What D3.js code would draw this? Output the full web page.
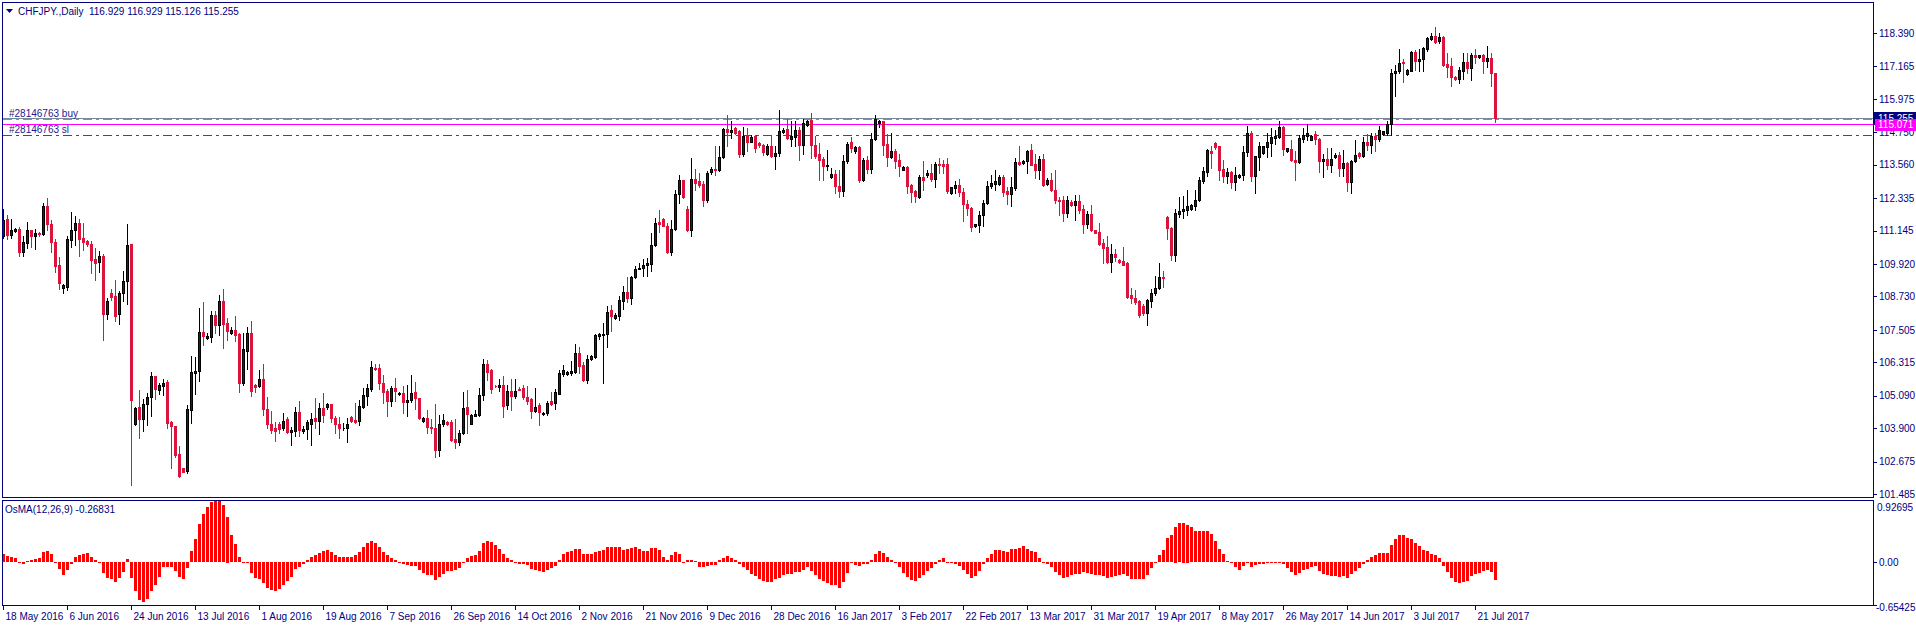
<!DOCTYPE html>
<html><head><meta charset="utf-8">
<script src="https://cdn.jsdelivr.net/npm/d3@7"></script>
<style>
html,body{margin:0;padding:0;background:#fff;overflow:hidden;}
svg{display:block;}
</style></head><body>
<svg id="chart" width="1916" height="627"></svg>
<script>
// ---------- DATA ----------
const symbolTitle = "CHFJPY.,Daily";
const headerOHLC = "116.929 116.929 115.126 115.255";
const osmaTitle = "OsMA(12,26,9) -0.26831";
const dateLabels = ["18 May 2016","6 Jun 2016","24 Jun 2016","13 Jul 2016","1 Aug 2016","19 Aug 2016","7 Sep 2016","26 Sep 2016","14 Oct 2016","2 Nov 2016","21 Nov 2016","9 Dec 2016","28 Dec 2016","16 Jan 2017","3 Feb 2017","22 Feb 2017","13 Mar 2017","31 Mar 2017","19 Apr 2017","8 May 2017","26 May 2017","14 Jun 2017","3 Jul 2017","21 Jul 2017"];
const priceTicks = [118.390,117.165,115.975,114.750,113.560,112.335,111.145,109.920,108.730,107.505,106.315,105.090,103.900,102.675,101.485];
const osmaTickValues = [0.92695, 0, -0.65425];
const osmaTickLabels = ["0.92695","0.00","-0.65425"];
const bidPrice = 115.255, userLinePrice = 115.071, orderPrice = 115.22, stopPrice = 114.66;
const orderLabel = "#28146763 buy", stopLabel = "#28146763 sl";

const opens = [
110.94,111.58,110.98,111.12,111.22,110.35,110.69,111.15,110.94,111.06,
111.01,112.03,111.40,110.74,109.87,109.04,109.07,110.79,111.15,111.44,
110.89,110.78,110.67,110.10,109.99,110.23,108.08,108.84,108.73,108.08,
108.85,109.29,110.67,104.05,104.66,104.24,104.78,105.05,105.80,105.31,
105.45,105.58,104.13,103.97,102.95,102.43,102.34,104.57,105.94,106.00,
107.41,107.19,107.24,108.04,107.68,108.58,107.74,107.40,107.49,107.34,
105.56,106.73,107.38,105.49,105.45,105.72,104.62,104.04,103.89,104.04,
103.90,104.23,103.77,103.80,104.49,103.79,103.87,104.06,104.27,104.15,
104.63,104.67,104.78,104.26,104.07,103.89,103.89,104.32,104.19,104.15,
104.69,105.08,105.33,106.10,106.10,105.57,105.28,104.89,105.36,105.14,
105.18,104.87,104.94,105.21,104.99,104.15,104.29,103.95,103.90,103.11,
104.05,104.13,104.13,103.52,103.40,103.72,104.67,104.07,104.35,104.39,
105.11,106.24,106.02,105.46,105.42,105.49,104.74,105.27,105.09,105.35,
105.37,105.06,104.96,104.54,104.74,104.41,104.44,104.90,104.84,105.17,
105.88,105.88,105.91,105.96,106.67,106.21,105.66,106.43,106.51,107.28,
107.30,107.34,108.22,107.95,108.00,108.56,108.91,108.66,109.44,109.72,
109.76,109.88,109.93,110.60,111.45,111.57,111.33,110.37,111.22,112.50,
112.99,111.94,111.16,113.04,112.95,112.85,112.26,113.28,113.40,113.35,
113.84,114.87,114.76,114.90,114.78,113.96,114.60,114.41,114.60,114.35,
114.29,113.96,114.26,113.87,113.99,114.77,114.87,114.50,114.57,114.84,
114.29,115.02,115.21,114.29,113.96,113.78,113.50,113.11,113.23,112.79,
112.59,113.68,114.38,114.05,114.21,112.99,113.72,113.40,114.50,115.08,
115.15,114.33,113.84,114.05,113.72,113.38,113.46,112.83,112.59,112.38,
113.11,113.20,113.26,113.04,113.60,113.60,113.58,112.52,112.71,112.83,
112.56,112.13,111.97,111.30,111.34,111.71,112.16,112.77,112.87,112.87,
113.11,112.59,112.49,112.71,113.67,113.62,113.68,114.09,113.60,113.35,
113.77,112.87,113.01,112.65,112.28,112.26,111.79,112.18,112.10,112.24,
111.94,111.40,111.77,111.15,111.11,110.69,110.54,110.00,110.27,110.05,
110.02,109.95,108.80,108.69,108.56,108.37,108.13,108.56,108.84,109.05,
109.45,111.65,111.24,110.24,111.77,111.86,111.91,111.95,112.04,112.26,
112.95,113.28,114.07,114.35,114.23,113.42,113.13,113.29,112.91,113.10,
113.17,114.01,114.72,113.13,113.84,113.99,114.20,114.35,114.54,114.57,
114.96,114.05,114.13,113.74,113.65,114.51,114.63,114.48,114.68,114.51,
113.68,113.77,113.54,113.83,113.93,113.44,113.62,112.91,113.68,113.99,
113.87,114.38,114.29,114.60,114.50,114.68,114.74,115.06,116.91,116.98,
117.34,116.89,117.01,117.68,117.38,117.43,117.79,118.16,118.28,118.10,
118.23,117.26,117.18,116.79,116.71,117.01,117.32,117.09,117.59,117.52,
117.57,117.38,117.46,116.929];

const highs = [
111.94,111.73,111.57,111.23,111.26,110.96,111.45,111.18,111.21,111.11,
112.15,112.35,111.55,110.85,110.18,109.17,110.94,111.82,111.67,111.57,
111.43,110.80,110.76,110.49,110.38,110.28,108.69,108.99,109.35,108.93,
109.68,111.40,110.67,104.67,105.30,104.96,105.18,105.95,105.80,105.54,
105.71,105.67,104.16,103.99,103.25,102.44,104.74,106.54,106.52,108.30,
108.51,107.38,108.19,108.21,108.80,108.99,107.94,107.62,108.01,107.40,
107.40,107.60,107.82,105.51,106.03,106.24,105.04,104.52,104.11,104.14,
104.45,104.30,103.94,104.67,104.89,103.99,104.21,104.45,104.99,104.84,
105.18,104.84,104.80,104.36,104.30,104.09,104.29,104.35,104.82,104.93,
105.36,105.52,106.35,106.25,106.24,105.84,105.33,105.45,105.73,105.22,
105.44,105.48,105.85,105.60,105.02,104.30,104.56,104.23,104.78,104.38,
104.41,104.16,104.19,104.23,103.84,105.24,105.29,104.42,104.56,105.36,
106.45,106.39,106.06,105.50,105.69,105.82,105.48,105.69,105.69,105.40,
105.48,105.45,105.00,105.39,104.84,104.49,104.90,105.21,105.33,106.04,
106.22,106.00,106.36,106.97,106.88,106.34,106.57,106.57,107.34,107.40,
107.77,108.38,108.40,108.11,108.74,109.13,109.44,109.48,109.84,109.96,
110.11,110.15,111.04,111.61,111.91,111.60,111.43,111.55,112.62,113.17,
113.01,112.04,113.80,113.40,113.26,112.95,113.32,113.46,114.23,114.23,
114.89,115.39,115.18,114.95,114.84,114.96,114.90,114.66,114.66,114.40,
114.33,114.33,114.66,114.23,115.57,114.90,115.23,115.15,115.15,114.96,
115.23,115.20,115.45,114.60,114.35,113.83,114.11,113.44,113.35,113.35,
113.93,114.41,114.57,114.25,114.23,113.80,113.89,114.74,115.39,115.21,
115.18,114.69,114.74,114.13,113.96,113.52,113.52,112.87,112.65,113.20,
113.68,113.35,113.60,113.65,113.80,113.74,113.80,112.73,112.95,113.05,
112.71,112.26,112.01,111.40,111.85,112.26,112.97,113.20,113.35,113.20,
113.20,112.74,113.11,113.80,114.23,113.74,114.11,114.33,113.96,113.89,
113.96,113.07,113.26,113.35,112.38,112.40,112.43,112.28,112.46,112.46,
112.10,111.85,112.10,111.18,111.43,110.82,110.94,110.67,110.48,110.09,
110.54,109.99,109.05,108.95,108.60,108.47,108.62,109.01,109.48,109.94,
109.68,111.67,111.28,111.94,112.37,112.40,112.65,112.13,112.65,113.11,
113.48,114.13,114.23,114.41,114.26,113.74,113.44,113.32,113.46,113.23,
114.26,114.99,114.80,113.89,114.41,114.26,114.72,114.90,114.84,115.18,
114.99,114.18,114.48,114.05,114.66,114.90,115.06,114.66,114.80,114.54,
113.96,114.17,114.17,113.99,114.02,114.11,113.65,113.74,114.45,114.04,
114.57,114.70,114.72,114.72,114.99,114.80,115.15,117.06,117.22,117.79,
117.43,117.06,117.74,117.77,117.79,117.87,118.26,118.38,118.60,118.38,
118.28,117.65,117.46,116.82,117.16,117.67,117.65,117.65,117.79,117.60,
117.61,117.91,117.67,116.929];

const lows = [
110.88,110.85,110.87,111.11,110.23,110.21,110.51,110.54,110.47,110.94,
110.97,111.18,110.35,109.62,109.02,108.84,108.96,110.55,110.60,110.23,
110.43,110.58,109.58,109.35,109.62,107.13,107.89,108.60,107.82,107.73,
108.55,108.45,101.83,104.01,103.55,103.81,104.01,104.34,104.98,105.16,
105.11,103.89,102.43,102.86,102.10,102.29,102.25,104.09,105.16,105.63,
106.94,107.17,107.07,107.38,107.30,106.83,107.12,107.36,107.10,105.23,
105.50,106.06,105.09,105.21,105.41,104.39,103.89,103.74,103.44,103.74,
103.84,103.72,103.28,103.62,103.62,103.72,103.52,103.29,103.90,103.68,
104.13,104.62,104.11,103.74,103.55,103.82,103.40,104.13,104.09,104.02,
104.64,104.74,105.27,106.04,105.33,104.84,104.35,104.72,104.88,105.10,
104.47,104.35,104.87,104.60,104.23,104.12,103.74,103.74,102.85,102.89,
103.99,104.02,103.44,103.19,103.28,103.68,103.74,104.05,104.35,104.35,
104.94,105.66,105.18,105.40,105.26,104.32,104.60,104.56,105.02,105.30,
104.96,104.78,104.29,104.50,104.02,104.38,104.38,104.74,104.62,105.14,
105.82,105.86,105.84,105.94,105.94,105.63,105.57,106.39,106.49,107.18,
105.57,106.88,107.46,107.91,107.87,108.26,108.52,108.44,109.40,109.72,
109.47,109.47,109.66,110.57,111.09,111.30,110.33,110.24,111.18,112.16,
112.34,111.12,110.94,112.65,112.75,112.06,112.18,113.22,113.19,113.32,
113.80,114.23,114.54,114.70,113.84,113.89,114.07,114.38,114.01,114.22,
113.93,113.90,113.84,113.40,113.87,114.74,114.51,114.26,114.23,113.74,
113.96,114.98,113.80,113.80,112.99,112.99,113.38,113.07,112.52,112.38,
112.40,113.64,114.01,114.00,112.91,112.95,113.25,113.25,114.45,114.96,
113.93,113.52,113.80,113.44,113.16,113.35,112.52,112.18,112.18,112.34,
112.65,113.11,112.95,112.74,113.26,113.26,112.52,112.50,112.52,112.40,
111.49,111.73,111.12,111.27,111.09,111.33,112.13,112.71,112.65,112.83,
112.43,112.13,112.06,112.65,113.56,113.58,113.26,113.56,113.07,113.04,
112.79,112.83,112.59,112.16,111.73,111.49,111.65,112.04,111.55,111.79,
111.04,111.24,111.12,111.04,110.63,109.96,109.96,109.63,110.02,109.95,
109.87,108.68,108.50,108.44,107.99,108.04,107.67,108.34,108.77,109.01,
109.07,110.84,110.06,110.02,111.65,111.61,111.71,111.89,111.89,112.22,
112.89,113.16,113.44,114.14,112.99,112.91,112.89,112.71,112.62,113.07,
113.01,113.87,112.95,112.52,113.35,113.96,113.84,113.87,114.33,114.54,
113.93,114.02,113.68,113.01,113.62,114.38,114.45,114.45,114.33,113.28,
113.10,113.42,113.28,113.80,113.13,113.13,112.59,112.52,113.65,113.82,
113.84,114.11,113.99,114.05,114.42,114.66,114.66,114.66,116.09,116.94,
116.61,116.84,116.98,117.04,117.01,117.01,117.74,118.13,118.04,118.04,
117.18,116.79,116.43,116.66,116.57,116.70,116.94,116.65,117.30,117.48,
116.94,117.16,116.43,115.126];

const closes = [
111.55,110.98,111.17,111.22,110.35,110.74,111.15,110.94,111.04,111.03,
112.03,111.38,110.72,109.84,109.22,109.14,110.82,111.15,111.44,110.85,
110.72,110.65,110.06,109.96,110.23,108.08,108.58,108.72,108.01,108.84,
109.28,110.63,104.94,104.64,104.23,104.78,105.06,105.80,105.34,105.48,
105.57,104.10,103.97,102.91,102.14,102.30,104.60,105.95,106.00,107.41,
107.28,107.28,108.04,107.68,108.58,107.73,107.46,107.49,107.32,105.56,
106.79,107.38,105.27,105.41,105.72,104.62,104.07,103.84,103.80,103.88,
104.18,103.77,103.83,104.49,103.84,103.87,104.11,104.23,104.15,104.63,
104.39,104.79,104.26,104.05,103.89,103.91,104.07,104.17,104.13,104.71,
105.11,105.36,106.13,106.06,105.54,105.23,104.90,105.36,105.27,105.19,
104.87,104.93,105.19,104.99,104.29,104.27,103.93,103.89,103.11,104.05,
104.21,104.05,103.48,103.40,103.72,104.63,104.41,104.38,104.41,105.11,
106.24,105.97,105.35,105.43,105.49,104.72,105.27,105.09,105.27,105.31,
105.05,104.90,104.54,104.69,104.50,104.47,104.84,104.78,105.21,105.91,
106.04,105.96,106.01,106.67,106.18,105.67,106.45,106.55,107.30,107.34,
107.37,108.17,108.01,108.04,108.60,108.91,108.66,109.45,109.72,109.78,
109.89,109.96,110.61,111.43,111.40,111.33,110.37,111.22,112.50,112.99,
112.38,111.18,113.04,112.89,112.82,112.26,113.26,113.40,113.35,113.84,
114.87,114.76,114.82,114.74,113.96,114.60,114.41,114.57,114.17,114.27,
114.01,114.26,113.89,113.99,114.80,114.82,114.54,114.60,114.84,114.29,
115.08,115.17,114.27,113.89,113.74,113.52,113.56,113.23,112.77,112.59,
113.71,114.33,114.19,114.21,112.99,113.72,113.40,114.51,115.23,115.15,
114.29,113.84,114.05,113.68,113.52,113.48,112.79,112.55,112.40,113.11,
113.01,113.26,113.04,113.60,113.55,113.53,112.59,112.73,112.83,112.55,
112.12,111.97,111.27,111.37,111.73,112.16,112.79,112.89,112.95,113.11,
112.55,112.49,112.74,113.66,113.59,113.71,114.07,113.56,113.35,113.77,
112.83,113.01,112.62,112.26,112.22,111.79,112.28,112.10,112.24,111.89,
111.40,111.77,111.15,111.06,110.67,110.49,110.00,110.27,110.18,109.99,
109.88,108.72,108.66,108.52,108.04,108.13,108.60,108.87,109.05,109.45,
109.40,111.24,110.24,111.79,111.88,111.95,112.04,112.09,112.28,112.99,
113.32,114.09,113.99,114.21,113.38,113.13,113.29,112.91,113.20,113.20,
114.02,114.72,113.13,113.87,114.26,114.23,114.39,114.57,114.61,114.96,
114.13,114.16,113.72,113.65,114.54,114.66,114.74,114.63,114.50,113.68,
113.77,113.54,113.77,113.93,113.44,113.62,112.91,113.71,113.93,113.87,
114.38,114.29,114.60,114.50,114.82,114.78,115.06,116.94,117.01,117.28,
117.28,117.04,117.68,117.38,117.44,117.83,118.20,118.28,118.07,118.23,
117.22,117.16,116.79,116.71,117.04,117.32,117.09,117.59,117.52,117.57,
117.38,117.46,116.94,115.255];

const osma = [
0.124,0.085,0.075,0.06,-0.01,-0.025,0.01,0.025,0.04,0.055,
0.145,0.16,0.12,0.005,-0.11,-0.2,-0.125,-0.03,0.07,0.105,
0.12,0.13,0.08,0.035,-0.005,-0.165,-0.24,-0.26,-0.3,-0.24,
-0.155,0.04,-0.24,-0.43,-0.57,-0.6,-0.55,-0.43,-0.35,-0.22,
-0.075,-0.075,-0.075,-0.13,-0.22,-0.25,-0.085,0.16,0.34,0.57,
0.72,0.82,0.89,0.927,0.92,0.85,0.68,0.4,0.27,0.075,
-0.01,-0.015,-0.165,-0.235,-0.25,-0.32,-0.39,-0.42,-0.43,-0.4,
-0.34,-0.29,-0.22,-0.1,-0.075,-0.025,0.025,0.075,0.1,0.14,
0.16,0.175,0.15,0.1,0.075,0.075,0.075,0.075,0.1,0.145,
0.22,0.28,0.32,0.28,0.23,0.15,0.11,0.065,0.025,-0.005,
-0.035,-0.05,-0.065,-0.065,-0.125,-0.165,-0.2,-0.2,-0.27,-0.22,
-0.18,-0.14,-0.14,-0.125,-0.09,0.0,0.06,0.085,0.105,0.16,
0.28,0.32,0.3,0.25,0.19,0.115,0.065,0.025,-0.005,-0.025,
-0.035,-0.05,-0.1,-0.115,-0.135,-0.15,-0.115,-0.09,-0.055,0.035,
0.125,0.145,0.16,0.2,0.19,0.125,0.115,0.12,0.145,0.16,
0.185,0.22,0.22,0.22,0.22,0.185,0.2,0.21,0.22,0.195,
0.16,0.16,0.205,0.205,0.185,0.075,0.035,0.1,0.145,0.115,
-0.01,0.025,0.025,0.01,-0.075,-0.075,-0.065,-0.05,-0.04,0.035,
0.065,0.085,0.065,0.025,-0.035,-0.075,-0.125,-0.175,-0.215,-0.25,
-0.29,-0.3,-0.3,-0.26,-0.235,-0.2,-0.185,-0.175,-0.155,-0.15,
-0.115,-0.075,-0.135,-0.2,-0.25,-0.29,-0.31,-0.34,-0.35,-0.39,
-0.3,-0.165,-0.015,-0.04,-0.06,-0.025,-0.025,0.035,0.115,0.16,
0.13,0.07,0.035,-0.01,-0.075,-0.165,-0.22,-0.265,-0.29,-0.235,
-0.2,-0.135,-0.085,-0.025,0.035,0.065,-0.005,-0.015,-0.025,-0.06,
-0.125,-0.185,-0.24,-0.21,-0.135,-0.035,0.065,0.125,0.185,0.185,
0.16,0.15,0.19,0.2,0.215,0.235,0.2,0.16,0.145,0.065,
-0.01,-0.025,-0.075,-0.15,-0.2,-0.235,-0.225,-0.2,-0.185,-0.175,
-0.15,-0.165,-0.175,-0.19,-0.19,-0.21,-0.235,-0.225,-0.215,-0.2,
-0.175,-0.21,-0.25,-0.25,-0.25,-0.25,-0.19,-0.09,-0.01,0.1,
0.175,0.36,0.4,0.53,0.58,0.59,0.56,0.52,0.46,0.46,
0.46,0.46,0.42,0.31,0.2,0.125,0.01,-0.01,-0.075,-0.115,
-0.065,-0.01,-0.075,-0.04,-0.025,-0.025,-0.01,-0.01,-0.005,-0.01,
-0.035,-0.09,-0.15,-0.19,-0.16,-0.125,-0.1,-0.075,-0.065,-0.135,
-0.185,-0.2,-0.21,-0.21,-0.225,-0.21,-0.24,-0.185,-0.135,-0.085,
-0.025,0.025,0.075,0.105,0.13,0.13,0.13,0.26,0.34,0.4,
0.4,0.365,0.34,0.29,0.235,0.175,0.16,0.125,0.1,0.06,
-0.065,-0.15,-0.235,-0.3,-0.315,-0.3,-0.29,-0.215,-0.175,-0.16,
-0.135,-0.125,-0.15,-0.26831];

// ---------- LAYOUT ----------
const W = 1916, H = 627;
const L = 2, R = 1873;
const mainTop = 2, mainBottom = 498, subTop = 500, subBottom = 606;
const navy = "#000080";
const FONT = "'Liberation Sans', Arial, sans-serif";
const bullFill = "#1e1e4c", bullLine = "#000000";
const bearColor = "#dc143c";

const n = Math.min(opens.length, highs.length, lows.length, closes.length);
const bars = d3.range(n).map(i => ({i, o: opens[i], h: highs[i], l: lows[i], c: closes[i]}));

const svg = d3.select("#chart");
svg.append("rect").attr("width", W).attr("height", H).attr("fill", "#fff");

const x = d3.scaleLinear().domain([0, 373]).range([3, 3 + 4 * 373]);
const yP = d3.scaleLinear().domain([101.485, 118.390]).range([494, 33]);
const yO = d3.scaleLinear().domain([-0.65425, 0.92695]).range([606, 500]);

// ---------- HORIZONTAL TRADE LINES (behind candles) ----------
const lines = svg.append("g").attr("shape-rendering", "crispEdges");
function hline(price, color, dash) {
  const yy = Math.round(yP(price)) + 0.5;
  const ln = lines.append("line").attr("x1", L + 1).attr("x2", R).attr("y1", yy).attr("y2", yy)
    .attr("stroke", color).attr("stroke-width", 1);
  if (dash) ln.attr("stroke-dasharray", dash);
  return yy;
}
const yBid = hline(bidPrice, "#778899");
const yOrder = hline(orderPrice, "#32cd32", "9,4,3,4");
const yUser = hline(userLinePrice, "#ff00ff");
const yStop = hline(stopPrice, "#ff0000", "9,4,3,4");

// ---------- CANDLES ----------
const cg = svg.append("g").attr("shape-rendering", "crispEdges");
bars.forEach(b => {
  const cx = Math.round(x(b.i));
  const bull = b.c >= b.o;
  const lineCol = bull ? bullLine : bearColor;
  const yh = Math.round(yP(b.h)), yl = Math.round(yP(b.l));
  cg.append("line").attr("x1", cx + 0.5).attr("x2", cx + 0.5)
    .attr("y1", yh).attr("y2", yl + 1).attr("stroke", lineCol);
  const top = Math.round(yP(Math.max(b.o, b.c)));
  const bot = Math.round(yP(Math.min(b.o, b.c)));
  const hgt = bot - top;
  cg.append("path")
    .attr("d", `M${cx - 0.5},${top + 0.5}h2v${hgt}h-2Z`)
    .attr("fill", bull ? bullFill : bearColor)
    .attr("stroke", lineCol).attr("stroke-width", 1);
});

// ---------- OsMA HISTOGRAM ----------
const og = svg.append("g").attr("shape-rendering", "crispEdges");
const y0 = yO(0);
og.selectAll("rect").data(osma.slice(0, n)).enter().append("rect")
  .attr("x", (d, i) => Math.round(x(i)) - 1)
  .attr("width", 3)
  .attr("y", d => Math.round(Math.min(yO(d), y0)))
  .attr("height", d => Math.max(1, Math.round(Math.abs(yO(d) - y0))))
  .attr("fill", "#ff0000");

// ---------- FRAMES ----------
const fg = svg.append("g").attr("shape-rendering", "crispEdges").attr("stroke", navy).attr("fill", "none");
fg.append("rect").attr("x", L + 0.5).attr("y", mainTop + 0.5).attr("width", R - L).attr("height", mainBottom - mainTop - 1);
fg.append("rect").attr("x", L + 0.5).attr("y", subTop + 0.5).attr("width", R - L).attr("height", subBottom - subTop - 1);

// ---------- PRICE AXIS ----------
const gy = svg.append("g").attr("transform", `translate(${R},0)`)
  .call(d3.axisRight(yP).tickValues(priceTicks).tickFormat(d3.format(".3f")).tickSize(4).tickPadding(2));
gy.select(".domain").remove();
gy.attr("font-family", FONT).attr("font-size", 10);
gy.selectAll("line").attr("stroke", navy).attr("shape-rendering", "crispEdges");
gy.selectAll("text").attr("fill", navy);

// price boxes
function priceBox(price, fill, yc, x0, h) {
  const g = svg.append("g");
  g.append("rect").attr("x", x0).attr("y", yc - h / 2).attr("width", W - x0).attr("height", h)
    .attr("fill", fill).attr("shape-rendering", "crispEdges");
  g.append("text").attr("x", 1878).attr("y", yc).attr("dy", "0.35em")
    .attr("fill", "#fff").attr("font-family", FONT).attr("font-size", 10).text(price.toFixed(3));
}
priceBox(bidPrice, navy, yBid - 0.5, R, 13);
priceBox(userLinePrice, "#ff00ff", yUser, R + 2, 12);

// ---------- OsMA AXIS ----------
const oa = svg.append("g").attr("font-family", FONT).attr("font-size", 10).attr("fill", navy);
const oPos = [{y: 507, x: 1877}, {y: yO(0), x: 1879}, {y: 607, x: 1876}];
osmaTickLabels.forEach((t, k) => {
  oa.append("text").attr("x", oPos[k].x).attr("y", oPos[k].y).attr("dy", "0.35em").text(t);
});
[0, -0.65425].forEach(v => {
  const yy = Math.round(yO(v)) - (v < 0 ? 1 : 0) + 0.5;
  svg.append("line").attr("x1", R).attr("x2", R + 4).attr("y1", yy).attr("y2", yy)
    .attr("stroke", navy).attr("shape-rendering", "crispEdges");
});

// ---------- DATE AXIS ----------
const gx = svg.append("g").attr("transform", `translate(0,${subBottom - 1})`)
  .call(d3.axisBottom(x).tickValues(d3.range(0, 16 * dateLabels.length, 16))
    .tickFormat((d, k) => dateLabels[k]).tickSize(5).tickPadding(3));
gx.select(".domain").remove();
gx.attr("font-family", FONT).attr("font-size", 10);
gx.selectAll("line").attr("stroke", navy).attr("shape-rendering", "crispEdges");
gx.selectAll("text").attr("fill", navy).attr("text-anchor", "start").attr("dx", 2);

// ---------- TEXT LABELS ----------
svg.append("path").attr("d", "M6,9L13,9L9.5,13Z").attr("fill", navy);
svg.append("text").attr("x", 18).attr("y", 15).attr("font-family", FONT).attr("font-size", 10)
  .attr("fill", navy).text(symbolTitle + "  " + headerOHLC).attr("xml:space", "preserve").style("white-space", "pre");
svg.append("text").attr("x", 9).attr("y", yOrder - 3).attr("font-family", FONT).attr("font-size", 10)
  .attr("fill", "#1c1c8c").text(orderLabel);
svg.append("text").attr("x", 9).attr("y", yStop - 3).attr("font-family", FONT).attr("font-size", 10)
  .attr("fill", "#1c1c8c").text(stopLabel);
svg.append("text").attr("x", 5).attr("y", subTop + 13).attr("font-family", FONT).attr("font-size", 10)
  .attr("fill", navy).text(osmaTitle);
</script>
</body></html>
